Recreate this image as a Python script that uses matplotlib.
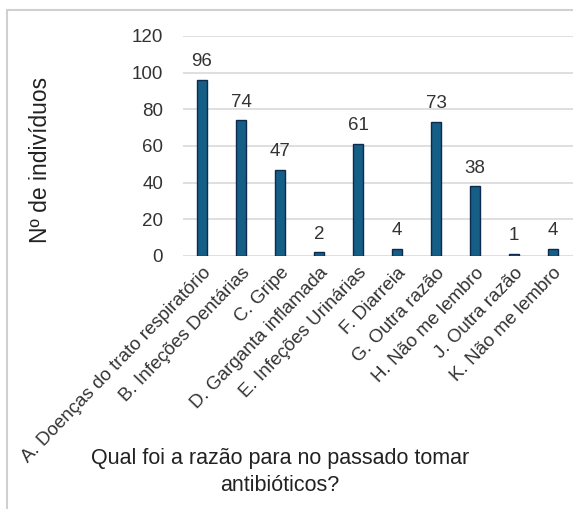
import matplotlib
matplotlib.use('Agg')
import matplotlib.pyplot as plt
from matplotlib.patches import Rectangle

# Reasons given for having taken antibiotics in the past
categories = [
    'A. Doenças do trato respiratório',
    'B. Infeções Dentárias',
    'C. Gripe',
    'D. Garganta inflamada',
    'E. Infeções Urinárias',
    'F. Diarreia',
    'G. Outra razão',
    'H. Não me lembro',
    'J. Outra razão',
    'K. Não me lembro',
]
counts = [96, 74, 47, 2, 61, 4, 73, 38, 1, 4]
y_ticks = [0, 20, 40, 60, 80, 100, 120]

plt.rcParams['font.family'] = ['Liberation Sans', 'DejaVu Sans']

fig = plt.figure(figsize=(5.73, 5.09), dpi=100)
ax = fig.add_axes([182.5 / 573, 1 - 256 / 509, 390 / 573, 220 / 509])

x = range(len(categories))
bars = ax.bar(x, counts, width=0.28, color='#155E86', edgecolor='#0E2A4F', linewidth=1.0, zorder=3)
for rect, v in zip(bars, counts):
    ax.annotate(str(v), (rect.get_x() + rect.get_width() / 2, v),
                xytext=(0, 7), textcoords='offset points',
                ha='center', va='bottom', fontsize=13.5, color='#333333')

ax.set_xlim(-0.5, len(categories) - 0.5)
ax.set_ylim(0, 120)
ax.set_yticks(y_ticks)
ax.yaxis.grid(True, color='#d9d9d9', linewidth=1.2, zorder=0)
ax.tick_params(axis='y', length=0, pad=14, labelsize=13.5, labelcolor='#333333')
ax.tick_params(axis='x', length=0, pad=6)
ax.set_xticks(list(x))
ax.set_xticklabels(categories, rotation=46, ha='right', rotation_mode='anchor',
                   fontsize=13.5, color='#333333')
for s in ax.spines.values():
    s.set_visible(False)

fig.text(41 / 573, 1 - 160 / 509, 'Nº de indivíduos', rotation=90,
         ha='center', va='center', fontsize=16.5, color='#222222')
fig.text(280 / 573, 1 - 472 / 509, 'Qual foi a razão para no passado tomar\nantibióticos?',
         ha='center', va='center', fontsize=15.5, color='#222222', linespacing=1.4)

# light frame around the chart area
fig.patches.append(Rectangle((7 / 573, -0.1), 1.2, 1 - 10 / 509 + 0.1,
                             transform=fig.transFigure, fill=False,
                             edgecolor='#d0d0d0', linewidth=1.5))

fig.savefig('out.png', dpi=100)
